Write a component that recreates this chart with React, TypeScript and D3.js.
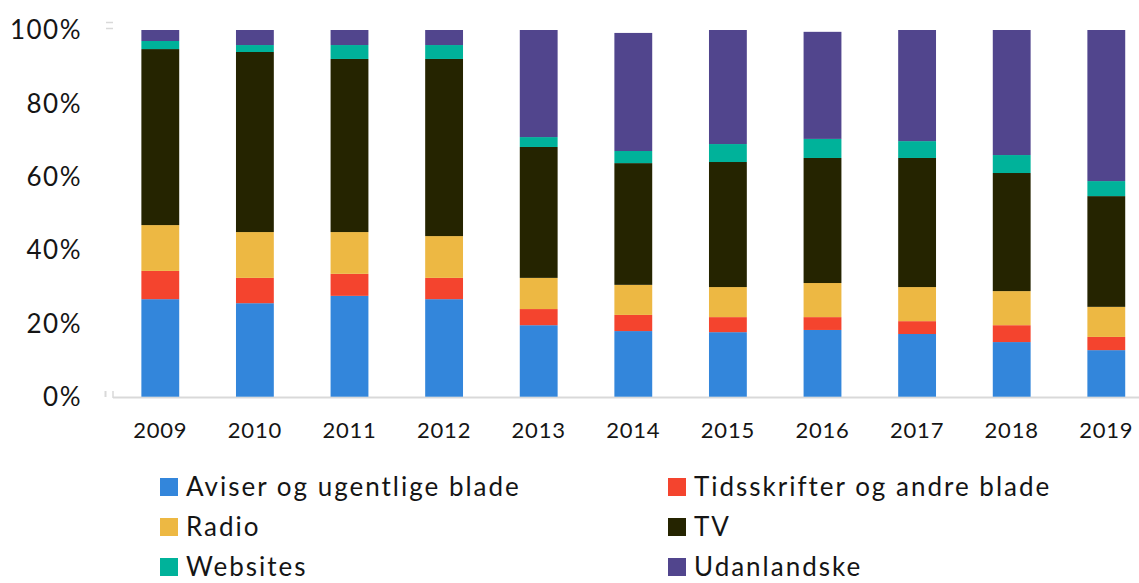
import { useEffect, useRef } from "react";
import * as d3 from "d3";

const years = ["2009", "2010", "2011", "2012", "2013", "2014", "2015", "2016", "2017", "2018", "2019"];
const aviser = [26.6, 25.5, 27.5, 26.6, 19.5, 17.9, 17.6, 18.2, 17.1, 14.9, 12.7];
const tidsskrifter = [7.7, 6.9, 6.0, 5.8, 4.4, 4.4, 4.1, 3.5, 3.5, 4.6, 3.6];
const radio = [12.5, 12.5, 11.4, 11.4, 8.5, 8.2, 8.2, 9.3, 9.3, 9.3, 8.2];
const tv = [48.0, 49.1, 47.2, 48.3, 35.7, 33.2, 34.1, 34.1, 35.2, 32.2, 30.2];
const websites = [2.2, 1.9, 3.8, 3.8, 2.7, 3.3, 4.9, 5.2, 4.6, 4.9, 4.1];
const udenlandske = [3.0, 4.1, 4.1, 4.1, 29.2, 32.2, 31.1, 29.2, 30.3, 34.1, 41.2];

const seriesNames = [
  "Aviser og ugentlige blade",
  "Tidsskrifter og andre blade",
  "Radio",
  "TV",
  "Websites",
  "Udanlandske",
];
const seriesValues = [aviser, tidsskrifter, radio, tv, websites, udenlandske];
const colors = ["#3386DB", "#F4442E", "#EDB843", "#252400", "#00B29A", "#51458D"];
const yTicks = [0, 20, 40, 60, 80, 100];

export default function App() {
  const svgRef = useRef<SVGSVGElement | null>(null);

  useEffect(() => {
    if (!svgRef.current) return;
    const svg = d3.select(svgRef.current);
    svg.selectAll("*").remove();

    const font = "Lato, 'Noto Sans', sans-serif";

    const rows = years.map((y, i) => {
      const r: any = { year: y };
      seriesNames.forEach((n, s) => (r[n] = seriesValues[s][i]));
      return r;
    });
    const stacked = d3.stack<any>().keys(seriesNames)(rows);

    const x = d3.scaleBand().domain(years).range([113, 1153.6]).paddingInner(0.6).paddingOuter(0.3);
    const y = d3.scaleLinear().domain([0, 100]).range([396.7, 30]);

    // axis line + small excel leftovers
    svg.append("line")
      .attr("x1", 113).attr("x2", 1139)
      .attr("y1", 397.5).attr("y2", 397.5)
      .attr("stroke", "#d9d9d9").attr("stroke-width", 2);
    svg.append("line")
      .attr("x1", 113).attr("x2", 113)
      .attr("y1", 391).attr("y2", 398)
      .attr("stroke", "#d9d9d9").attr("stroke-width", 1.5);
    svg.append("line")
      .attr("x1", 105.5).attr("x2", 105.5)
      .attr("y1", 391).attr("y2", 397)
      .attr("stroke", "#d9d9d9").attr("stroke-width", 2);
    [22.5, 28.5].forEach((yy) =>
      svg.append("line")
        .attr("x1", 106).attr("x2", 113)
        .attr("y1", yy).attr("y2", yy)
        .attr("stroke", "#d9d9d9").attr("stroke-width", 1.5)
    );

    // bars
    svg.append("g")
      .selectAll("g")
      .data(stacked)
      .join("g")
      .attr("fill", (_d, i) => colors[i])
      .selectAll("rect")
      .data((d) => d)
      .join("rect")
      .attr("x", (d: any) => x(d.data.year)!)
      .attr("width", x.bandwidth())
      .attr("y", (d) => y(d[1]))
      .attr("height", (d) => y(d[0]) - y(d[1]));

    // y labels
    svg.append("g")
      .selectAll("text")
      .data(yTicks)
      .join("text")
      .attr("x", 82)
      .attr("y", (d) => y(d))
      .attr("dy", "0.36em")
      .attr("text-anchor", "end")
      .attr("font-family", font)
      .attr("font-size", 26)
      .attr("letter-spacing", 1.5)
      .attr("fill", "#151515")
      .text((d) => `${d}%`);

    // x labels
    svg.append("g")
      .selectAll("text")
      .data(years)
      .join("text")
      .attr("x", (d) => x(d)! + x.bandwidth() / 2)
      .attr("y", 438)
      .attr("text-anchor", "middle")
      .attr("font-family", font)
      .attr("font-size", 22)
      .attr("letter-spacing", 0.8)
      .attr("fill", "#151515")
      .text((d) => d);

    // legend
    const lg = svg.append("g")
      .selectAll("g")
      .data(seriesNames)
      .join("g")
      .attr("transform", (_d, i) => `translate(${i % 2 === 0 ? 160 : 668},${[487, 527, 567][Math.floor(i / 2)]})`);
    lg.append("rect")
      .attr("x", 0).attr("y", -9)
      .attr("width", 18).attr("height", 18)
      .attr("fill", (_d, i) => colors[i]);
    lg.append("text")
      .attr("x", 26).attr("y", 0)
      .attr("dy", "0.36em")
      .attr("font-family", font)
      .attr("font-size", 26)
      .attr("letter-spacing", 2)
      .attr("fill", "#151515")
      .text((d) => d);
  }, []);

  return (
    <svg
      ref={svgRef}
      width={1139}
      height={583}
      style={{ position: "absolute", left: 0, top: 0, background: "#fff" }}
    ></svg>
  );
}
